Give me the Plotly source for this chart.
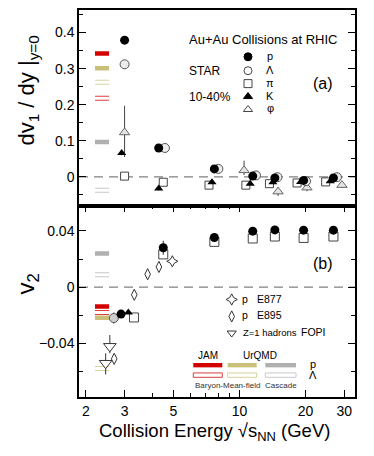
import plotly.graph_objects as go
import numpy as np

# ---------------- data ----------------
# panel (a): dv1/dy at y=0
p_E   = [3.00, 4.29, 7.69, 11.5, 14.5, 19.6, 26.8]
p_dv1 = [0.379, 0.080, 0.022, 0.002, -0.003, -0.010, -0.003]
L_E   = [3.00, 4.58, 8.02, 11.9, 14.9, 20.1, 27.8]
L_dv1 = [0.312, 0.080, 0.022, 0.004, -0.001, -0.012, -0.001]
L_dv1_err = [0.012, 0.004, 0.003, 0.003, 0.003, 0.003, 0.003]
pi_E   = [3.00, 4.50, 7.27, 10.7, 13.7, 18.3, 24.7]
pi_dv1 = [0.002, -0.015, -0.023, -0.023, -0.019, -0.017, -0.014]
K_E   = [2.91, 4.29, 7.50, 11.2, 14.2, 19.0, 25.9]
K_dv1 = [0.066, -0.032, -0.015, -0.019, -0.015, -0.014, -0.012]
K_dv1_err = [0.006, 0.006, 0.004, 0.003, 0.003, 0.003, 0.003]
phi_E   = [3.00, 10.5, 15.0, 20.3, 29.3]
phi_dv1 = [0.123, 0.018, -0.041, -0.030, -0.023]
phi_err_up = [0.074, 0.027, 0.012, 0.010, 0.008]
phi_err_dn = [0.068, 0.013, 0.012, 0.010, 0.008]

# panel (b): v2
p_v2_E = [2.89, 4.50, 7.69, 11.5, 14.5, 19.6, 26.8]
p_v2   = [-0.0191, 0.028, 0.0353, 0.0398, 0.0407, 0.0405, 0.0405]
p_v2_err = [0.001, 0.005, 0.001, 0.001, 0.001, 0.001, 0.001]
L_v2_E = [2.68]
L_v2   = [-0.0219]
L_v2_err = [0.004]
K_v2_E = [3.12]
K_v2   = [-0.018]
pi_v2_E = [3.31, 4.50, 7.69, 11.5, 14.5, 19.6, 26.8]
pi_v2   = [-0.0215, 0.0233, 0.0322, 0.0346, 0.036, 0.035, 0.036]
pi_v2_err = [0.001, 0.003, 0.001, 0.001, 0.001, 0.001, 0.001]
e877_E = [4.95]
e877_v2 = [0.0184]
e877_err = [0.002]
e895_E = [2.69, 3.32, 3.82, 4.30]
e895_v2 = [-0.0509, -0.0054, 0.0092, 0.0144]
e895_err = [0.003, 0.003, 0.003, 0.003]
fopi_E = [2.46, 2.57]
fopi_v2 = [-0.054, -0.042]
fopi_err_up = [0.007, 0.008]
fopi_err_dn = [0.008, 0.005]

# model bands (JAM, UrQMD mean-field, Cascade)
models = ["JAM", "UrQMD", "Cascade"]
model_E = [2.20, 2.55]
dv1_p_model = [0.342, 0.301, 0.0966]
dv1_L_model = [0.218, 0.262, -0.0375]
v2_p_model = [-0.0137, -0.0217, 0.024]
v2_L_model = [-0.0179, -0.0577, 0.0089]
model_fill = ["#d40000", "#c9c17a", "#b0b0b0"]
model_edge = ["#e03c3c", "#d9d39c", "#c8c8c8"]

x_ticks = [2, 3, 5, 10, 20, 30]
x_minor = [4, 6, 7, 8, 9, 40]

FONT = "Liberation Sans, Arial, sans-serif"

# ---------------- figure ----------------
fig = go.Figure()
split = 192.3 / 389

def add(tr, panel):
    if panel == "a":
        tr.update(xaxis="x", yaxis="y")
    elif panel == "b":
        tr.update(xaxis="x2", yaxis="y2")
    else:
        tr.update(xaxis="x3", yaxis="y3")
    fig.add_trace(tr)

# model bars
for i in range(3):
    for panel, pv, lv in (("a", dv1_p_model[i], dv1_L_model[i]), ("b", v2_p_model[i], v2_L_model[i])):
        add(go.Scatter(x=model_E, y=[pv, pv], mode="lines",
                       line=dict(color=model_fill[i], width=4.5), showlegend=False,
                       hoverinfo="skip"), panel)
        add(go.Scatter(x=model_E, y=[lv, lv], mode="lines",
                       line=dict(color=model_edge[i], width=5), showlegend=False,
                       hoverinfo="skip"), panel)
        add(go.Scatter(x=model_E, y=[lv, lv], mode="lines",
                       line=dict(color="white", width=3), showlegend=False,
                       hoverinfo="skip"), panel)

# panel (a) data
add(go.Scatter(x=phi_E, y=phi_dv1, mode="markers",
               error_y=dict(type="data", symmetric=False, array=phi_err_up, arrayminus=phi_err_dn,
                            color="#444", thickness=1, width=0),
               marker=dict(symbol="triangle-up", size=9, color="#e4e4e4",
                           line=dict(color="#666", width=1)), showlegend=False), "a")
add(go.Scatter(x=pi_E, y=pi_dv1, mode="markers",
               marker=dict(symbol="square", size=8, color="white",
                           line=dict(color="#444", width=1)), showlegend=False), "a")
add(go.Scatter(x=K_E, y=K_dv1, mode="markers",
               error_y=dict(type="data", array=K_dv1_err, color="#999", thickness=1.5, width=0),
               marker=dict(symbol="triangle-up", size=8, color="black"), showlegend=False), "a")
add(go.Scatter(x=L_E, y=L_dv1, mode="markers",
               error_y=dict(type="data", array=L_dv1_err, color="#444", thickness=1, width=0),
               marker=dict(symbol="circle", size=9, color="#ececec",
                           line=dict(color="#555", width=1)), showlegend=False), "a")
add(go.Scatter(x=p_E, y=p_dv1, mode="markers",
               marker=dict(symbol="circle", size=9, color="black"), showlegend=False), "a")

# panel (b) data
add(go.Scatter(x=fopi_E, y=fopi_v2, mode="markers",
               error_y=dict(type="data", symmetric=False, array=fopi_err_up, arrayminus=fopi_err_dn,
                            color="#333", thickness=1, width=0),
               marker=dict(symbol="triangle-down", size=11, color="white",
                           line=dict(color="#333", width=1)), showlegend=False), "b")
add(go.Scatter(x=e895_E, y=e895_v2, mode="markers",
               error_y=dict(type="data", array=e895_err, color="#333", thickness=1, width=0),
               marker=dict(symbol="diamond-tall", size=8, color="white",
                           line=dict(color="#333", width=1)), showlegend=False), "b")
add(go.Scatter(x=e877_E, y=e877_v2, mode="markers",
               error_y=dict(type="data", array=e877_err, color="#333", thickness=1, width=0),
               marker=dict(symbol="star-diamond", size=8, color="white",
                           line=dict(color="#333", width=1)), showlegend=False), "b")
add(go.Scatter(x=pi_v2_E, y=pi_v2, mode="markers",
               error_y=dict(type="data", array=pi_v2_err, color="#444", thickness=1, width=0),
               marker=dict(symbol="square", size=9, color="white",
                           line=dict(color="#444", width=1)), showlegend=False), "b")
add(go.Scatter(x=K_v2_E, y=K_v2, mode="markers",
               marker=dict(symbol="triangle-up", size=8, color="black"), showlegend=False), "b")
add(go.Scatter(x=L_v2_E, y=L_v2, mode="markers",
               error_y=dict(type="data", array=L_v2_err, color="#444", thickness=1, width=0),
               marker=dict(symbol="circle", size=9, color="#cfcfcf",
                           line=dict(color="#555", width=1)), showlegend=False), "b")
add(go.Scatter(x=p_v2_E, y=p_v2, mode="markers",
               error_y=dict(type="data", array=p_v2_err, color="#333", thickness=1, width=0),
               marker=dict(symbol="circle", size=9, color="black"), showlegend=False), "b")

# legend keys (paper-like overlay axes)
def py(px):
    return (397 - px) / 389
def pxx(px):
    return (px - 79) / 276

star_syms = [("circle", "black", "black"), ("circle", "white", "#444"), ("square", "white", "#444"),
             ("triangle-up", "black", "black"), ("triangle-up", "white", "#444")]
star_names = ["p", "Λ", "π", "K", "φ"]
star_y = [55, 69, 82, 95, 108]
for (sym, fc, lc), yy in zip(star_syms, star_y):
    add(go.Scatter(x=[pxx(248)], y=[py(yy)], mode="markers",
                   marker=dict(symbol=sym, size=8, color=fc, line=dict(color=lc, width=1)),
                   showlegend=False), "k")
for sym, yy in (("star-diamond", 299), ("diamond-tall", 316), ("triangle-down", 332.7)):
    add(go.Scatter(x=[pxx(231.7)], y=[py(yy)], mode="markers",
                   marker=dict(symbol=sym, size=8, color="white", line=dict(color="#333", width=1)),
                   showlegend=False), "k")

shapes = []
# zero lines
for yref in ("y", "y2"):
    shapes.append(dict(type="line", xref="x domain" if yref == "y" else "x2 domain", yref=yref,
                       x0=0, x1=1, y0=0, y1=0, layer="below",
                       line=dict(color="#808080", width=1.2, dash="9px,6px")))
# model legend bars
leg_x = [(193.3, 222.3), (227.7, 256.7), (265.3, 296.0)]
for i, (a, b) in enumerate(leg_x):
    shapes.append(dict(type="rect", xref="paper", yref="paper", x0=pxx(a), x1=pxx(b),
                       y0=py(367.2), y1=py(362.8), fillcolor=model_fill[i], line=dict(width=0)))
    shapes.append(dict(type="rect", xref="paper", yref="paper", x0=pxx(a), x1=pxx(b),
                       y0=py(377.2), y1=py(372.8), fillcolor="white",
                       line=dict(color=model_edge[i], width=1)))

ann = []
def txt(x, y, s, size=12, xanchor="left", color="black", **kw):
    ann.append(dict(x=pxx(x), y=py(y), xref="paper", yref="paper", text=s, showarrow=False,
                    xanchor=xanchor, yanchor="middle", borderpad=0,
                    font=dict(size=size, color=color, family=FONT), **kw))

txt(188, 37.5, "Au+Au Collisions at RHIC", 13)
txt(188, 69, "STAR", 12)
txt(188, 95, "10-40%", 12)
for nm, yy in zip(star_names, star_y):
    txt(270, yy - 1, nm, 11, xanchor="center")
txt(323, 82, "(a)", 16, xanchor="center")
txt(323, 263, "(b)", 16, xanchor="center")
txt(245, 298, "p", 10.5, xanchor="center")
txt(256, 298, "E877", 10.5)
txt(245, 315, "p", 10.5, xanchor="center")
txt(256, 315, "E895", 10.5)
txt(242, 332, "Z=1 hadrons", 9.5)
txt(300, 332, "FOPI", 10.5)
txt(208, 355, "JAM", 10, xanchor="center")
txt(260, 355, "UrQMD", 10, xanchor="center")
txt(312.5, 364, "p", 11, xanchor="center")
txt(312.5, 375, "Λ", 11, xanchor="center")
txt(227, 385.7, "Baryon-Mean-field", 8, xanchor="center", color="#333")
txt(280.7, 385.7, "Cascade", 8, xanchor="center", color="#333")
# axis titles
ann.append(dict(x=pxx(28), y=py(89), xref="paper", yref="paper", showarrow=False, textangle=-90,
                text="dv<sub>1</sub> / dy |<sub>y=0</sub>", xanchor="center", yanchor="middle",
                font=dict(size=22, family=FONT, color="black")))
ann.append(dict(x=pxx(28), y=py(284), xref="paper", yref="paper", showarrow=False, textangle=-90,
                text="v<sub>2</sub>", xanchor="center", yanchor="middle",
                font=dict(size=24, family=FONT, color="black")))
ann.append(dict(x=pxx(214), y=py(432), xref="paper", yref="paper", showarrow=False,
                text="Collision Energy √s<sub>NN</sub> (GeV)", xanchor="center", yanchor="middle",
                borderpad=0, font=dict(size=18.5, family=FONT, color="black")))

xr = [np.log10(1.86), np.log10(33.6)]
axis_common = dict(showline=True, linecolor="black", linewidth=1.5,
                   ticklen=7, tickcolor="black", tickwidth=1,
                   showgrid=False, zeroline=False,
                   tickfont=dict(size=14, family=FONT, color="black"))

fig.update_layout(
    width=374, height=456,
    margin=dict(l=79, r=19, t=8, b=59),
    paper_bgcolor="white", plot_bgcolor="rgba(0,0,0,0)",
    showlegend=False,
    shapes=shapes, annotations=ann,
    xaxis=dict(domain=[0, 1], anchor="y", type="log", range=xr, tickvals=x_ticks,
               showticklabels=False, ticks="", mirror=True,
               **axis_common),
    yaxis=dict(domain=[split, 1], anchor="x", range=[-0.08, 0.4626], mirror="allticks", ticks="inside",
               tickvals=[0, 0.1, 0.2, 0.3, 0.4], ticktext=["0", "0.1", "0.2", "0.3", "0.4"],
               minor=dict(dtick=0.05, tick0=0, ticklen=4, ticks="inside", tickcolor="black"),
               **axis_common),
    xaxis2=dict(domain=[0, 1], anchor="y2", type="log", range=xr, tickvals=x_ticks,
                ticktext=[str(v) for v in x_ticks], mirror="allticks", ticks="inside",
                minor=dict(tickvals=x_minor, ticklen=4, ticks="inside", tickcolor="black"),
                **axis_common),
    yaxis2=dict(domain=[0, split], anchor="x2", range=[-0.078, 0.0579], mirror="allticks", ticks="inside",
                tickvals=[-0.04, 0, 0.04], ticktext=["−0.04", "0", "0.04"],
                minor=dict(dtick=0.02, tick0=0, ticklen=4, ticks="inside", tickcolor="black"),
                **axis_common),
    xaxis3=dict(domain=[0, 1], anchor="y3", range=[0, 1], visible=False, fixedrange=True),
    yaxis3=dict(domain=[0, 1], anchor="x3", range=[0, 1], visible=False, fixedrange=True),
)
fig.update_xaxes(tickangle=0)
fig.write_html("out.html", config={"displayModeBar": False},
               post_script="document.body.style.margin='0px';")
